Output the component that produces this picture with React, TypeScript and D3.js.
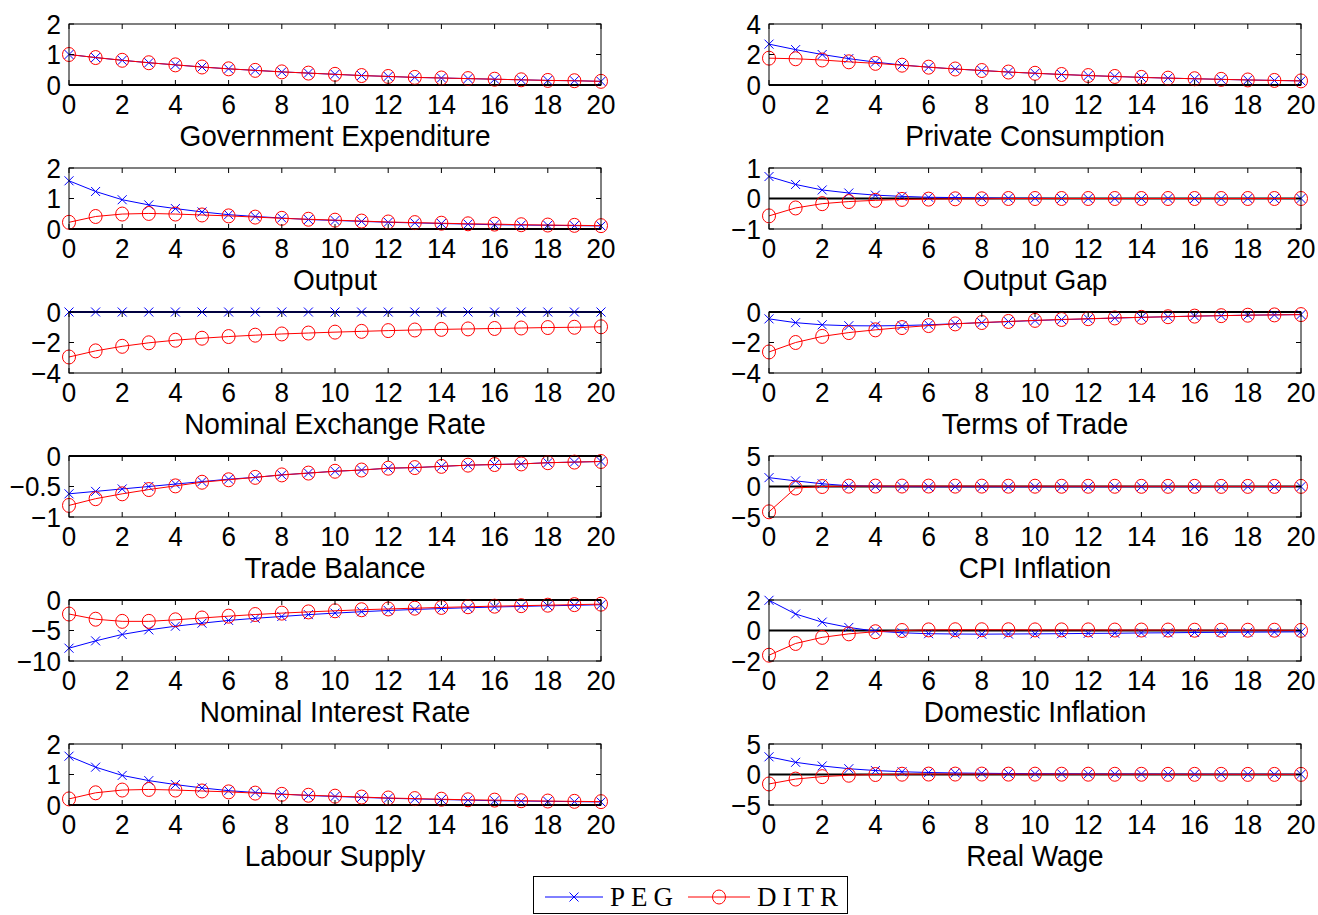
import * as d3 from 'd3';
import React from 'react';

// horizon (quarters) and tick labels
const periods = [0, 1, 2, 3, 4, 5, 6, 7, 8, 9, 10, 11, 12, 13, 14, 15, 16, 17, 18, 19, 20];
const xTickValues = [0, 2, 4, 6, 8, 10, 12, 14, 16, 18, 20];

const govPEG = [1.0, 0.9, 0.81, 0.73, 0.66, 0.59, 0.53, 0.48, 0.43, 0.39, 0.35, 0.31, 0.28, 0.25, 0.23, 0.21, 0.19, 0.17, 0.15, 0.14, 0.12];
const govDITR = [1.0, 0.9, 0.81, 0.73, 0.66, 0.59, 0.53, 0.48, 0.43, 0.39, 0.35, 0.31, 0.28, 0.25, 0.23, 0.21, 0.19, 0.17, 0.15, 0.14, 0.12];

const consPEG = [2.68, 2.32, 2.0, 1.73, 1.5, 1.31, 1.17, 1.05, 0.95, 0.85, 0.77, 0.69, 0.62, 0.56, 0.5, 0.45, 0.41, 0.37, 0.33, 0.3, 0.27];
const consDITR = [1.76, 1.72, 1.64, 1.52, 1.42, 1.3, 1.17, 1.05, 0.95, 0.85, 0.77, 0.69, 0.62, 0.56, 0.5, 0.45, 0.41, 0.37, 0.33, 0.3, 0.27];

const outPEG = [1.58, 1.23, 0.96, 0.79, 0.67, 0.56, 0.47, 0.41, 0.36, 0.31, 0.28, 0.25, 0.22, 0.2, 0.18, 0.16, 0.14, 0.13, 0.12, 0.11, 0.1];
const outDITR = [0.22, 0.41, 0.49, 0.51, 0.49, 0.46, 0.43, 0.39, 0.35, 0.32, 0.29, 0.26, 0.23, 0.21, 0.19, 0.17, 0.16, 0.14, 0.13, 0.12, 0.11];

const gapPEG = [0.72, 0.46, 0.28, 0.18, 0.11, 0.07, 0.04, 0.03, 0.02, 0.01, 0.01, 0, 0, 0, 0, 0, 0, 0, 0, 0, 0];
const gapDITR = [-0.57, -0.31, -0.17, -0.1, -0.06, -0.03, -0.02, -0.01, -0.01, 0, 0, 0, 0, 0, 0, 0, 0, 0, 0, 0, 0];

const nerPEG = [0, 0, 0, 0, 0, 0, 0, 0, 0, 0, 0, 0, 0, 0, 0, 0, 0, 0, 0, 0, 0];
const nerDITR = [-2.95, -2.55, -2.25, -2.02, -1.85, -1.72, -1.61, -1.52, -1.44, -1.38, -1.32, -1.27, -1.22, -1.18, -1.14, -1.11, -1.08, -1.05, -1.02, -1.0, -0.97];

const totPEG = [-0.45, -0.7, -0.84, -0.9, -0.91, -0.89, -0.84, -0.77, -0.7, -0.63, -0.56, -0.5, -0.45, -0.4, -0.35, -0.31, -0.27, -0.24, -0.21, -0.19, -0.17];
const totDITR = [-2.62, -2.0, -1.6, -1.35, -1.17, -1.02, -0.89, -0.78, -0.69, -0.62, -0.55, -0.49, -0.44, -0.39, -0.35, -0.31, -0.27, -0.24, -0.21, -0.19, -0.17];

const tbPEG = [-0.62, -0.58, -0.54, -0.5, -0.46, -0.42, -0.38, -0.35, -0.31, -0.28, -0.25, -0.23, -0.2, -0.19, -0.17, -0.15, -0.14, -0.13, -0.11, -0.1, -0.09];
const tbDITR = [-0.81, -0.7, -0.62, -0.55, -0.49, -0.43, -0.39, -0.35, -0.31, -0.28, -0.25, -0.23, -0.2, -0.19, -0.17, -0.15, -0.14, -0.13, -0.11, -0.1, -0.09];

const cpiPEG = [1.45, 0.92, 0.45, 0.12, 0.03, -0.02, -0.04, -0.05, -0.05, -0.05, -0.05, -0.04, -0.04, -0.04, -0.03, -0.03, -0.03, -0.02, -0.02, -0.02, -0.02];
const cpiDITR = [-4.15, -0.25, 0.0, 0.06, 0.07, 0.07, 0.07, 0.06, 0.06, 0.05, 0.05, 0.04, 0.04, 0.04, 0.03, 0.03, 0.03, 0.02, 0.02, 0.02, 0.02];

const nirPEG = [-7.9, -6.7, -5.65, -4.9, -4.3, -3.8, -3.35, -3.0, -2.7, -2.4, -2.15, -1.92, -1.72, -1.55, -1.4, -1.27, -1.15, -1.05, -0.95, -0.87, -0.78];
const nirDITR = [-2.3, -3.15, -3.5, -3.5, -3.25, -2.95, -2.65, -2.38, -2.15, -1.95, -1.77, -1.6, -1.47, -1.34, -1.22, -1.11, -1.01, -0.93, -0.85, -0.76, -0.68];

const diPEG = [1.98, 1.08, 0.55, 0.2, -0.04, -0.15, -0.21, -0.23, -0.24, -0.23, -0.22, -0.21, -0.19, -0.18, -0.16, -0.15, -0.13, -0.12, -0.11, -0.1, -0.09];
const diDITR = [-1.62, -0.85, -0.45, -0.22, -0.08, 0.0, 0.04, 0.05, 0.05, 0.05, 0.04, 0.04, 0.04, 0.03, 0.03, 0.03, 0.02, 0.02, 0.02, 0.02, 0.01];

const lsPEG = [1.6, 1.24, 0.97, 0.8, 0.67, 0.56, 0.47, 0.41, 0.36, 0.31, 0.28, 0.25, 0.22, 0.2, 0.18, 0.16, 0.14, 0.13, 0.12, 0.11, 0.1];
const lsDITR = [0.2, 0.4, 0.49, 0.51, 0.49, 0.46, 0.43, 0.39, 0.35, 0.32, 0.29, 0.26, 0.23, 0.21, 0.19, 0.17, 0.16, 0.14, 0.13, 0.12, 0.11];

const rwPEG = [2.9, 2.0, 1.4, 0.95, 0.65, 0.45, 0.33, 0.25, 0.2, 0.16, 0.13, 0.11, 0.09, 0.08, 0.07, 0.06, 0.05, 0.04, 0.04, 0.03, 0.03];
const rwDITR = [-1.55, -0.75, -0.35, -0.12, 0.0, 0.05, 0.07, 0.07, 0.07, 0.06, 0.06, 0.05, 0.05, 0.04, 0.04, 0.03, 0.03, 0.03, 0.02, 0.02, 0.02];

const panels = [
  { title: 'Government Expenditure', domain: [0, 2], ticks: [0, 1, 2], peg: govPEG, ditr: govDITR },
  { title: 'Private Consumption', domain: [0, 4], ticks: [0, 2, 4], peg: consPEG, ditr: consDITR },
  { title: 'Output', domain: [0, 2], ticks: [0, 1, 2], peg: outPEG, ditr: outDITR },
  { title: 'Output Gap', domain: [-1, 1], ticks: [-1, 0, 1], peg: gapPEG, ditr: gapDITR },
  { title: 'Nominal Exchange Rate', domain: [-4, 0], ticks: [-4, -2, 0], peg: nerPEG, ditr: nerDITR },
  { title: 'Terms of Trade', domain: [-4, 0], ticks: [-4, -2, 0], peg: totPEG, ditr: totDITR },
  { title: 'Trade Balance', domain: [-1, 0], ticks: [-1, -0.5, 0], peg: tbPEG, ditr: tbDITR },
  { title: 'CPI Inflation', domain: [-5, 5], ticks: [-5, 0, 5], peg: cpiPEG, ditr: cpiDITR },
  { title: 'Nominal Interest Rate', domain: [-10, 0], ticks: [-10, -5, 0], peg: nirPEG, ditr: nirDITR },
  { title: 'Domestic Inflation', domain: [-2, 2], ticks: [-2, 0, 2], peg: diPEG, ditr: diDITR },
  { title: 'Labour Supply', domain: [0, 2], ticks: [0, 1, 2], peg: lsPEG, ditr: lsDITR },
  { title: 'Real Wage', domain: [-5, 5], ticks: [-5, 0, 5], peg: rwPEG, ditr: rwDITR },
];

const W = 1318;
const H = 915;
const colLeft = [69, 769];
const plotW = 532;
const plotH = 61;
const rowTop0 = 24;
const rowStep = 144;
const font = "'Liberation Sans', Arial, Helvetica, sans-serif";
const fmt = (v) => (v < 0 ? '\u2212' + String(-v) : String(v));

// the original text is a touch taller than it is wide
function Label({ x, y, anchor, size, sy, dy, children }) {
  return (
    <text transform={`translate(${x},${y}) scale(1,${sy})`} dy={dy} textAnchor={anchor} fontSize={size} fontFamily={font}>
      {children}
    </text>
  );
}

function XMark({ x, y, s = 4.5 }) {
  return (
    <path d={`M${x - s},${y - s}L${x + s},${y + s}M${x - s},${y + s}L${x + s},${y - s}`} stroke="#0000ff" strokeWidth={1} fill="none" />
  );
}

function Panel({ p, left, top }) {
  const x = d3.scaleLinear().domain([0, 20]).range([left, left + plotW]);
  const y = d3.scaleLinear().domain(p.domain).range([top + plotH, top]);
  const line = d3.line().x((d, i) => x(periods[i])).y((d) => y(d));
  const tk = 5;
  return (
    <g>
      <rect x={left} y={top} width={plotW} height={plotH} fill="#fff" />
      {/* zero line */}
      <line x1={left} x2={left + plotW} y1={y(0)} y2={y(0)} stroke="#000" strokeWidth={2} />
      <path d={line(p.peg)} fill="none" stroke="#0000ff" strokeWidth={1} />
      {p.peg.map((v, i) => <XMark key={'p' + i} x={x(periods[i])} y={y(v)} />)}
      <path d={line(p.ditr)} fill="none" stroke="#ff0000" strokeWidth={1} />
      {p.ditr.map((v, i) => (
        <ellipse key={'d' + i} cx={x(periods[i])} cy={y(v)} rx={6.5} ry={7} fill="none" stroke="#ff0000" strokeWidth={1} />
      ))}
      <rect x={left} y={top} width={plotW} height={plotH} fill="none" stroke="#000" strokeWidth={1} />
      {xTickValues.map((t) => (
        <g key={'x' + t}>
          <line x1={x(t)} x2={x(t)} y1={top + plotH} y2={top + plotH - tk} stroke="#000" />
          <line x1={x(t)} x2={x(t)} y1={top} y2={top + tk} stroke="#000" />
          <Label x={x(t)} y={top + plotH + 29} anchor="middle" size={26} sy={1.05}>{fmt(t)}</Label>
        </g>
      ))}
      {p.ticks.map((t) => (
        <g key={'y' + t}>
          <line x1={left} x2={left + tk} y1={y(t)} y2={y(t)} stroke="#000" />
          <line x1={left + plotW} x2={left + plotW - tk} y1={y(t)} y2={y(t)} stroke="#000" />
          <Label x={left - 8} y={y(t)} anchor="end" size={26} sy={1.05} dy="0.36em">{fmt(t)}</Label>
        </g>
      ))}
      <Label x={left + plotW / 2} y={top + plotH + 61} anchor="middle" size={28} sy={1.05}>{p.title}</Label>
    </g>
  );
}

export default function App() {
  const serif = "'Liberation Serif', 'Times New Roman', serif";
  const ly = 897;
  return (
    <svg width={W} height={H} style={{ position: 'absolute', left: 0, top: 0, background: '#fff' }}>
      <rect width={W} height={H} fill="#fff" />
      {panels.map((p, i) => (
        <Panel key={p.title} p={p} left={colLeft[i % 2]} top={rowTop0 + rowStep * Math.floor(i / 2)} />
      ))}
      <g>
        <rect x={533.5} y={876.5} width={314} height={37} fill="#fff" stroke="#000" strokeWidth={1} />
        <line x1={545} x2={603} y1={ly} y2={ly} stroke="#0000ff" />
        <XMark x={574} y={ly} />
        <text x={610} y={ly} dy="0.35em" fontSize={27} fontFamily={serif} letterSpacing={6}>PEG</text>
        <line x1={688} x2={750} y1={ly} y2={ly} stroke="#ff0000" />
        <ellipse cx={719} cy={ly} rx={6.5} ry={7} fill="none" stroke="#ff0000" />
        <text x={757} y={ly} dy="0.35em" fontSize={27} fontFamily={serif} letterSpacing={6}>DITR</text>
      </g>
    </svg>
  );
}
